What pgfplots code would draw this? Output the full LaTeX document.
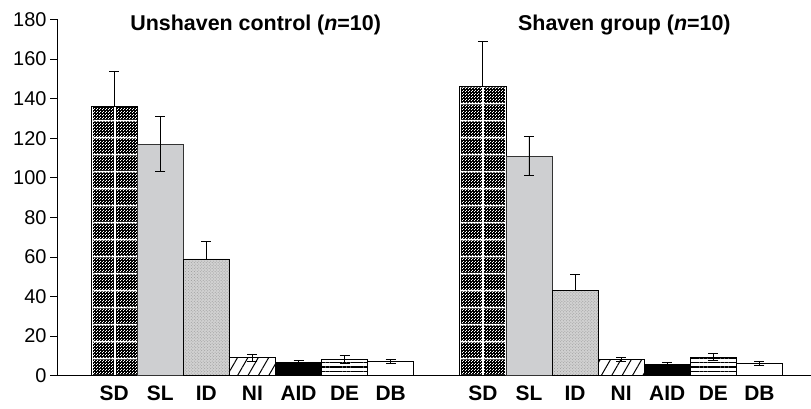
\documentclass[border=0pt]{standalone}
\usepackage{fontspec}
\setmainfont{Liberation Sans}
\usepackage{pgfplots}
\pgfplotsset{compat=1.18}
\usetikzlibrary{patterns,patterns.meta}

\pgfdeclarepattern{
  name=darkcheck,
  type=uncolored,
  bottom left={\pgfpoint{0bp}{0bp}},
  top right={\pgfpoint{2.5bp}{2.5bp}},
  tile size={\pgfpoint{2.5bp}{2.5bp}},
  code={
    \pgfpathrectangle{\pgfpoint{0bp}{0bp}}{\pgfpoint{1bp}{1bp}}
    \pgfpathrectangle{\pgfpoint{1.25bp}{1.25bp}}{\pgfpoint{1bp}{1bp}}
    \pgfusepath{fill}
  }
}

\begin{document}
\begin{tikzpicture}
\useasboundingbox (-57bp,-33.3bp) rectangle (754bp,375.7bp);
\begin{axis}[
  scale only axis,
  width=754bp, height=356.2bp,
  xmin=-1.241, xmax=15.12,
  ymin=0, ymax=180,
  axis x line=bottom, axis y line=left,
  axis line style={-, line width=0.8bp, black},
  ybar, bar width=1,
  xtick={0,1,2,3,4,5,6,8,9,10,11,12,13,14},
  xticklabels={SD,SL,ID,NI,AID,DE,DB,SD,SL,ID,NI,AID,DE,DB},
  xtick style={draw=none},
  ytick={0,20,...,180},
  ytick style={line width=0.8bp, black},
  tick align=outside,
  major tick length=7bp,
  /pgf/number format/assume math mode=true,
  yticklabel style={font=\fontsize{20}{22}\selectfont},
  xticklabel style={font=\fontsize{21}{23}\bfseries\selectfont},
  error bars/error bar style={line width=0.8bp, black},
  error bars/error mark options={rotate=90, mark size=5bp, line width=0.8bp, black},
  clip=false,
]
% SD
\addplot[fill=black, draw=black, line width=0.8bp, bar shift=0pt,
  postaction={pattern=darkcheck, pattern color=white},
  postaction={pattern={Lines[angle=0,distance=17.3bp,line width=1.4bp]}, pattern color=white},
  postaction={pattern={Lines[angle=90,distance=23bp,line width=1.4bp]}, pattern color=white},
  error bars/.cd, y dir=plus, y explicit]
  coordinates {(0,136) +- (0,18) (8,146) +- (0,23)};
\addplot[draw=black, line width=0.8bp, bar shift=0pt]
  coordinates {(0,136) (8,146)};
% SL
\addplot[fill={rgb,255:red,206;green,207;blue,209}, draw=black!80, line width=0.8bp, bar shift=0pt,
  error bars/.cd, y dir=both, y explicit]
  coordinates {(1,117) +- (0,14) (9,111) +- (0,10)};
% ID
\addplot[fill=black!18, draw=black, line width=0.8bp, bar shift=0pt,
  postaction={pattern=crosshatch dots, pattern color=black!40},
  error bars/.cd, y dir=plus, y explicit]
  coordinates {(2,59) +- (0,9) (10,43) +- (0,8)};
% NI
\addplot[fill=white, draw=black, line width=0.8bp, bar shift=0pt,
  postaction={pattern={Lines[angle=60,distance=9bp,line width=1bp]}, pattern color=black},
  error bars/.cd, y dir=both, y explicit]
  coordinates {(3,9) +- (0,2) (11,8.2) +- (0,1)};
% AID
\addplot[fill=black, draw=black, line width=0.8bp, bar shift=0pt,
  error bars/.cd, y dir=plus, y explicit]
  coordinates {(4,6.7) +- (0,1) (12,5.6) +- (0,1.2)};
% DE
\addplot[fill=white, draw=black, line width=0.8bp, bar shift=0pt,
  postaction={pattern={Lines[angle=0,distance=4.2bp,line width=1.2bp]}, pattern color=black},
  error bars/.cd, y dir=both, y explicit]
  coordinates {(5,8.4) +- (0,2) (13,9.5) +- (0,1.8)};
% DB
\addplot[fill=white, draw=black, line width=0.8bp, bar shift=0pt,
  error bars/.cd, y dir=both, y explicit]
  coordinates {(6,7.2) +- (0,1) (14,6.2) +- (0,1)};
\node[font=\fontsize{21.5}{24}\bfseries\selectfont, anchor=base] at (axis cs:3.07,174.2) {Unshaven control (\textit{n}=10)};
\node[font=\fontsize{21.5}{24}\bfseries\selectfont, anchor=base] at (axis cs:11.07,174.2) {Shaven group (\textit{n}=10)};
\end{axis}
\end{tikzpicture}
\end{document}
